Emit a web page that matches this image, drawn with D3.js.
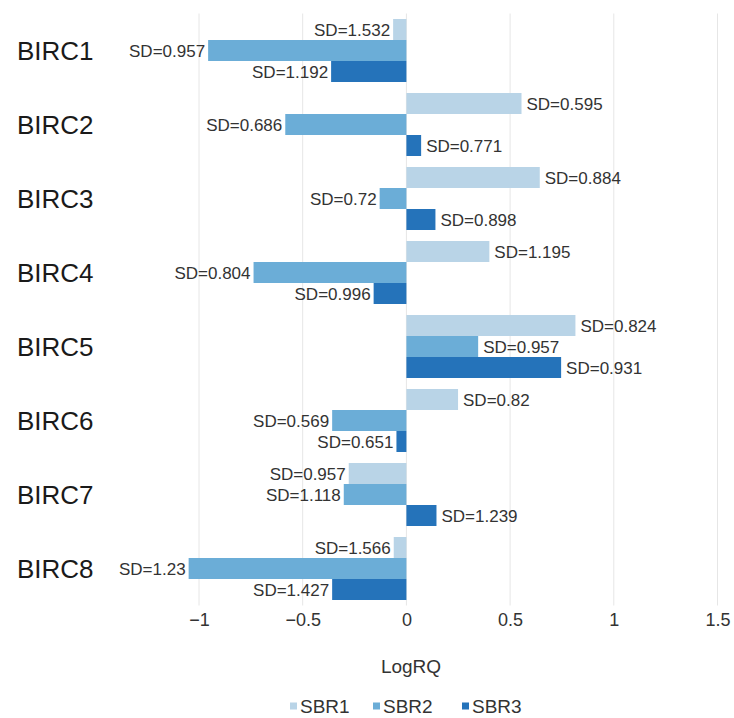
<!DOCTYPE html>
<html>
<head>
<meta charset="utf-8">
<script src="https://cdn.jsdelivr.net/npm/d3@7"></script>
<style>
  html, body { margin: 0; padding: 0; background: #fff; }
  svg text { font-family: "Liberation Sans", Arial, sans-serif; fill: #333; }
</style>
</head>
<body>
<svg id="chart" width="734" height="718"></svg>
<script>
// Genes on the vertical axis
const genes = ["BIRC1", "BIRC2", "BIRC3", "BIRC4", "BIRC5", "BIRC6", "BIRC7", "BIRC8"];
const seriesNames = ["SBR1", "SBR2", "SBR3"];
const seriesColors = ["#b9d4e7", "#6badd7", "#2573ba"];

// LogRQ per gene for each series
const sbr1 = [-0.064, 0.555, 0.643, 0.40, 0.815, 0.249, -0.278, -0.061];
const sbr2 = [-0.956, -0.584, -0.129, -0.737, 0.346, -0.358, -0.302, -1.05];
const sbr3 = [-0.363, 0.071, 0.140, -0.158, 0.746, -0.048, 0.145, -0.358];

// Standard deviation labels
const sd1 = ["1.532", "0.595", "0.884", "1.195", "0.824", "0.82", "0.957", "1.566"];
const sd2 = ["0.957", "0.686", "0.72", "0.804", "0.957", "0.569", "1.118", "1.23"];
const sd3 = ["1.192", "0.771", "0.898", "0.996", "0.931", "0.651", "1.239", "1.427"];

const tickValues = [-1, -0.5, 0, 0.5, 1, 1.5];
const tickLabels = ["\u22121", "\u22120.5", "0", "0.5", "1", "1.5"];

const values = [sbr1, sbr2, sbr3];
const sds = [sd1, sd2, sd3];

const rows = [];
genes.forEach((g, i) => {
  seriesNames.forEach((s, j) => {
    rows.push({ gene: g, series: s, value: values[j][i], sd: sds[j][i], color: seriesColors[j] });
  });
});

const svg = d3.select("#chart");

const x = d3.scaleLinear().domain([-1, 1.5]).range([199, 717.5]);
const y = d3.scaleBand().domain(genes).range([13.5, 605.5])
  .paddingInner(11 / 74).paddingOuter(11 / 148);
const ySub = d3.scaleBand().domain(seriesNames).range([0, y.bandwidth()]);

// Vertical gridlines
svg.append("g").selectAll("line").data(tickValues).join("line")
  .attr("x1", d => x(d)).attr("x2", d => x(d))
  .attr("y1", 13.5).attr("y2", 605.5)
  .attr("stroke", "#e6e6e6").attr("stroke-width", 1);

// Bars
const bars = svg.append("g");
bars.selectAll("rect").data(rows).join("rect")
  .attr("x", d => Math.min(x(0), x(d.value)))
  .attr("width", d => Math.abs(x(d.value) - x(0)))
  .attr("y", d => y(d.gene) + ySub(d.series))
  .attr("height", ySub.bandwidth())
  .attr("fill", d => d.color);

// SD labels beside each bar end
svg.append("g").selectAll("text").data(rows).join("text")
  .attr("x", d => d.value < 0 ? x(d.value) - 3 : x(d.value) + 5)
  .attr("y", d => y(d.gene) + ySub(d.series) + ySub.bandwidth() / 2)
  .attr("dy", "0.36em")
  .attr("text-anchor", d => d.value < 0 ? "end" : "start")
  .attr("font-size", 17)
  .text(d => "SD=" + d.sd);

// Gene labels
svg.append("g").selectAll("text").data(genes).join("text")
  .attr("x", 17)
  .attr("y", d => y(d) + y.bandwidth() / 2)
  .attr("dy", "0.36em")
  .attr("font-size", 26)
  .style("fill", "#1a1a1a")
  .text(d => d);

// X axis tick labels
const xAxis = d3.axisBottom(x).tickValues(tickValues)
  .tickFormat((d, i) => tickLabels[i]).tickSize(0).tickPadding(0);
const gx = svg.append("g").attr("transform", "translate(0,613)").call(xAxis);
gx.select(".domain").remove();
gx.selectAll("text").attr("font-size", 18).attr("dy", "0.71em")
  .style("font-family", "\"Liberation Sans\", Arial, sans-serif").style("fill", "#333");

// Axis title
svg.append("text")
  .attr("x", 411).attr("y", 673)
  .attr("text-anchor", "middle")
  .attr("font-size", 19)
  .text("LogRQ");

// Legend
const legendX = [290, 373, 462];
const legend = svg.append("g").selectAll("g").data(seriesNames).join("g")
  .attr("transform", (d, i) => `translate(${legendX[i]},706)`);
legend.append("rect").attr("x", 0).attr("y", -3.5).attr("width", 7).attr("height", 7)
  .attr("fill", (d, i) => seriesColors[i]);
legend.append("text").attr("x", 10).attr("y", 0).attr("dy", "0.36em")
  .attr("font-size", 19).text(d => d);
</script>
</body>
</html>
